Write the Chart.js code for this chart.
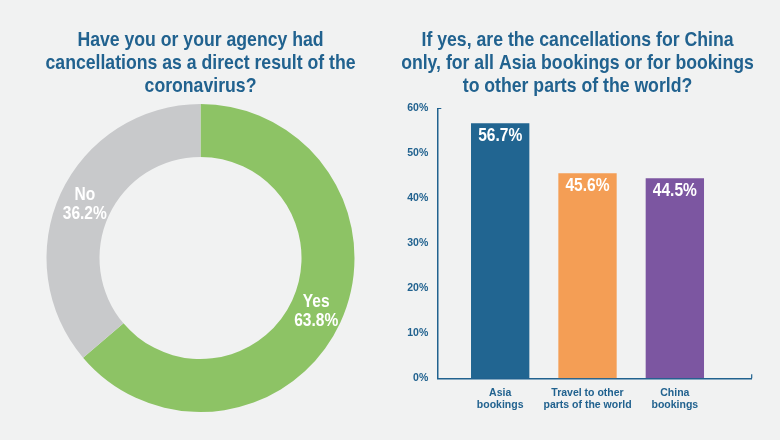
<!DOCTYPE html>
<html>
<head>
<meta charset="utf-8">
<script src="https://cdn.jsdelivr.net/npm/chart.js@4.4.1/dist/chart.umd.min.js"></script>
<style>
  html, body { margin:0; padding:0; background:#f1f2f2; }
  #wrap { position:relative; width:780px; height:440px; background:#f1f2f2; }
  .box { position:absolute; top:0; width:390px; height:440px; }
  #left { left:0; } #right { left:390px; }
</style>
</head>
<body>
<div id="wrap">
  <div class="box" id="left"><canvas id="c1" width="390" height="440"></canvas></div>
  <div class="box" id="right"><canvas id="c2" width="390" height="440"></canvas></div>
</div>
<script>
// ---- data ----
const pieTitle = ["Have you or your agency had", "cancellations as a direct result of the", "coronavirus?"];
const pieLabels = ["Yes", "No"];
const pieValues = [63.8, 36.2];

const barTitle = ["If yes, are the cancellations for China", "only, for all Asia bookings or for bookings", "to other parts of the world?"];
const barCategories = [["Asia", "bookings"], ["Travel to other", "parts of the world"], ["China", "bookings"]];
const barValues = [56.7, 45.6, 44.5];
const yTicks = [0, 10, 20, 30, 40, 50, 60];

// ---- style ----
const FONT = '"Liberation Sans", Arial, sans-serif';
const BLUE = '#21628f';
const pieColors = ['#8dc365', '#c8c9cb'];
const barColors = ['#216591', '#f49e55', '#7c56a1'];

Chart.defaults.font.family = FONT;
Chart.defaults.font.weight = 'bold';
Chart.defaults.animation = false;

// horizontal squeeze to mimic the condensed typeface of the original
let SQ = 0.8;
(function () {
  const c = document.createElement('canvas').getContext('2d');
  c.font = 'bold 21px ' + FONT;
  const w = c.measureText(pieTitle[1]).width;
  if (w > 0) SQ = 310 / w;
})();

function squeezedText(ctx, text, x, y, font, color, align) {
  ctx.save();
  ctx.font = font;
  ctx.fillStyle = color;
  ctx.textAlign = align || 'center';
  ctx.translate(x, y);
  ctx.scale(SQ, 1);
  ctx.fillText(text, 0, 0);
  ctx.restore();
}

const TITLE_BASELINES = [46, 69, 92];
function titlePlugin(lines, cx) {
  return {
    id: 'condTitle',
    afterDraw(chart) {
      const ctx = chart.ctx;
      lines.forEach((t, i) => {
        ctx.save();
        ctx.textBaseline = 'alphabetic';
        squeezedText(ctx, t, cx, TITLE_BASELINES[i], 'bold 21px ' + FONT, BLUE);
        ctx.restore();
      });
    }
  };
}

// doughnut labels
const pieLabelPlugin = {
  id: 'pieLabels',
  afterDatasetsDraw(chart) {
    const ctx = chart.ctx;
    const meta = chart.getDatasetMeta(0);
    ctx.save();
    ctx.textBaseline = 'middle';
    meta.data.forEach((arc, i) => {
      const p = arc.getCenterPoint();
      squeezedText(ctx, pieLabels[i], p.x, p.y - 9.5, 'bold 18.5px ' + FONT, '#ffffff');
      squeezedText(ctx, pieValues[i].toFixed(1) + '%', p.x, p.y + 9.5, 'bold 18.5px ' + FONT, '#ffffff');
    });
    ctx.restore();
  }
};

new Chart(document.getElementById('c1'), {
  type: 'doughnut',
  data: {
    labels: pieLabels,
    datasets: [{ data: pieValues, backgroundColor: pieColors, borderWidth: 0 }]
  },
  options: {
    responsive: false,
    cutout: '65.6%',
    layout: { padding: { left: 11, right: 0, top: 104, bottom: 28 } },
    plugins: {
      legend: { display: false },
      tooltip: { enabled: false },
      title: { display: false }
    }
  },
  plugins: [pieLabelPlugin, titlePlugin(pieTitle, 200.5)]
});

// bar value labels
const barLabelPlugin = {
  id: 'barLabels',
  afterDatasetsDraw(chart) {
    const ctx = chart.ctx;
    const meta = chart.getDatasetMeta(0);
    ctx.save();
    ctx.textBaseline = 'middle';
    meta.data.forEach((bar, i) => {
      squeezedText(ctx, barValues[i].toFixed(1) + '%', bar.x, bar.y + 13, 'bold 18.5px ' + FONT, '#ffffff');
    });
    ctx.restore();
  }
};

// small end ticks on the axes, as in the original
const axisEndTicks = {
  id: 'axisEndTicks',
  afterDraw(chart) {
    const { ctx, chartArea } = chart;
    ctx.save();
    ctx.strokeStyle = BLUE;
    ctx.lineWidth = 1.2;
    ctx.beginPath();
    ctx.moveTo(chartArea.right, chartArea.bottom);
    ctx.lineTo(chartArea.right, chartArea.bottom - 4);
    ctx.moveTo(chartArea.left, chartArea.top);
    ctx.lineTo(chartArea.left + 4, chartArea.top);
    ctx.stroke();
    ctx.restore();
  }
};

new Chart(document.getElementById('c2'), {
  type: 'bar',
  data: {
    datasets: [{
      data: barValues.map((v, i) => ({ x: i, y: v })),
      backgroundColor: barColors,
      borderWidth: 0,
      barPercentage: 0.668,
      categoryPercentage: 1
    }]
  },
  options: {
    responsive: false,
    layout: { padding: { left: 13.3, right: 28.3, top: 108.5, bottom: 0 } },
    plugins: {
      legend: { display: false },
      tooltip: { enabled: false },
      title: { display: false }
    },
    scales: {
      x: {
        type: 'linear',
        offset: false,
        min: -0.72,
        max: 2.88,
        afterBuildTicks(scale) { scale.ticks = barCategories.map((_, i) => ({ value: i })); },
        afterFit(scale) { scale.height = 61.7; },
        grid: { display: false, drawTicks: false, offset: false },
        border: { display: true, color: BLUE, width: 1.5 },
        ticks: {
          color: BLUE,
          padding: 9,
          autoSkip: false,
          maxRotation: 0,
          font: { size: 10.5, weight: 'bold', lineHeight: 1.1 },
          callback: (v) => barCategories[v]
        }
      },
      y: {
        min: 0,
        max: 60,
        afterBuildTicks(scale) { scale.ticks = yTicks.map(v => ({ value: v })); },
        afterFit(scale) { scale.width = 34; },
        grid: { display: false, drawTicks: false },
        border: { display: true, color: BLUE, width: 1.5 },
        ticks: {
          color: BLUE,
          padding: 9,
          font: { size: 10.5, weight: 'bold' },
          callback: (v) => v + '%'
        }
      }
    }
  },
  plugins: [barLabelPlugin, axisEndTicks, titlePlugin(barTitle, 187.5)]
});
</script>
</body>
</html>
